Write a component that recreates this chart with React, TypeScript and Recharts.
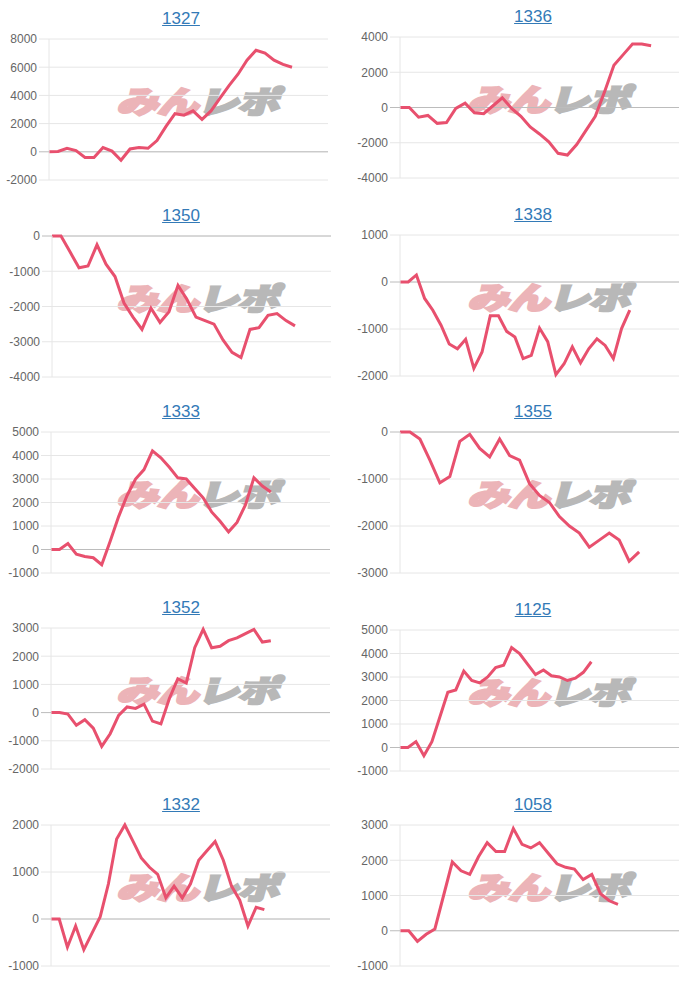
import { LineChart, Line, XAxis, YAxis, CartesianGrid, ReferenceLine } from "recharts";

const LINE = "#e8506e";
const GRID = "#e6e6e6";
const ZERO = "#bcbcbc";

// slump values per machine
const v1327 = [0, 20, 250, 80, -400, -400, 300, 50, -600, 200, 300, 250, 800, 1800, 2700, 2600, 2900, 2300, 2900, 3800, 4700, 5500, 6500, 7200, 7000, 6500, 6200, 6000];
const v1336 = [0, 0, -550, -450, -900, -850, -50, 250, -300, -350, 100, 550, -50, -500, -1100, -1500, -1950, -2600, -2700, -2100, -1300, -500, 900, 2400, 3000, 3600, 3600, 3500];
const v1350 = [0, 0, -450, -900, -850, -250, -800, -1150, -1900, -2300, -2650, -2050, -2450, -2150, -1400, -1800, -2300, -2400, -2500, -2950, -3300, -3450, -2650, -2600, -2250, -2200, -2400, -2550];
const v1338 = [0, 0, 150, -350, -600, -920, -1320, -1420, -1220, -1840, -1490, -720, -720, -1050, -1170, -1630, -1560, -980, -1270, -1970, -1740, -1380, -1720, -1420, -1210, -1350, -1630, -990, -600];
const v1333 = [0, 0, 250, -200, -300, -350, -650, 350, 1400, 2300, 3000, 3400, 4200, 3900, 3500, 3050, 3000, 2600, 2200, 1600, 1200, 750, 1150, 1900, 3050, 2700, 2450];
const v1355 = [0, 0, -150, -600, -1080, -950, -200, -50, -350, -530, -150, -500, -600, -1100, -1350, -1500, -1800, -2000, -2150, -2450, -2300, -2150, -2300, -2750, -2550];
const v1352 = [0, 0, -50, -450, -250, -550, -1200, -750, -100, 200, 150, 300, -300, -400, 500, 1200, 1050, 2300, 2950, 2300, 2350, 2550, 2650, 2800, 2950, 2500, 2550];
const v1125 = [0, 0, 250, -350, 250, 1300, 2350, 2450, 3250, 2850, 2750, 3000, 3400, 3500, 4250, 4000, 3550, 3100, 3300, 3050, 3000, 2850, 2950, 3200, 3650];
const v1332 = [0, 0, -600, -150, -650, -300, 50, 750, 1700, 2000, 1650, 1300, 1100, 950, 450, 700, 450, 750, 1250, 1450, 1650, 1250, 700, 400, -150, 250, 200];
const v1058 = [0, 0, -300, -100, 50, 1000, 1950, 1700, 1600, 2100, 2500, 2250, 2250, 2900, 2450, 2350, 2500, 2200, 1900, 1800, 1750, 1450, 1600, 1050, 850, 750];

// y-axis ticks
const t1327 = [-2000, 0, 2000, 4000, 6000, 8000];
const t1336 = [-4000, -2000, 0, 2000, 4000];
const t1350 = [-4000, -3000, -2000, -1000, 0];
const t1338 = [-2000, -1000, 0, 1000];
const t1333 = [-1000, 0, 1000, 2000, 3000, 4000, 5000];
const t1355 = [-3000, -2000, -1000, 0];
const t1352 = [-2000, -1000, 0, 1000, 2000, 3000];
const t1125 = [-1000, 0, 1000, 2000, 3000, 4000, 5000];
const t1332 = [-1000, 0, 1000, 2000];
const t1058 = [-1000, 0, 1000, 2000, 3000];

// number of slots on the (hidden) x axis
const s1327 = 31;
const s1336 = 30;
const s1350 = 31;
const s1338 = 34;
const s1333 = 33;
const s1355 = 28;
const s1352 = 33;
const s1125 = 35;
const s1332 = 34;
const s1058 = 32;

const PANELS = [
  { title: "1327", values: v1327, ticks: t1327, span: s1327, col: 0, left: 49, top: 39 },
  { title: "1336", values: v1336, ticks: t1336, span: s1336, col: 1, left: 400, top: 37 },
  { title: "1350", values: v1350, ticks: t1350, span: s1350, col: 0, left: 52, top: 236 },
  { title: "1338", values: v1338, ticks: t1338, span: s1338, col: 1, left: 400, top: 235 },
  { title: "1333", values: v1333, ticks: t1333, span: s1333, col: 0, left: 51, top: 432 },
  { title: "1355", values: v1355, ticks: t1355, span: s1355, col: 1, left: 400, top: 432 },
  { title: "1352", values: v1352, ticks: t1352, span: s1352, col: 0, left: 51, top: 628 },
  { title: "1125", values: v1125, ticks: t1125, span: s1125, col: 1, left: 400, top: 630 },
  { title: "1332", values: v1332, ticks: t1332, span: s1332, col: 0, left: 51, top: 825 },
  { title: "1058", values: v1058, ticks: t1058, span: s1058, col: 1, left: 400, top: 825 }
];

const PLOT_W = 279;
const PLOT_H = 141;
const AXIS_W = 60;
const PAD = 10;

function YTick(props: any) {
  const { x, y, payload } = props;
  const zero = payload.value === 0;
  return (
    <g>
      <line x1={x + 2} x2={x + 12} y1={y} y2={y} stroke={zero ? ZERO : GRID} strokeWidth={1} />
      <text
        x={x}
        y={y}
        dy="0.36em"
        textAnchor="end"
        fill="#666"
        fontSize={12}
        fontFamily="'Liberation Sans', Arial, sans-serif"
      >
        {payload.value}
      </text>
    </g>
  );
}

// site logo stamped behind each graph
function Watermark({ cx, cy }: { cx: number; cy: number }) {
  return (
    <div
      style={{
        position: "absolute",
        left: cx - 100,
        top: cy - 20,
        width: 200,
        height: 40,
        display: "flex",
        alignItems: "center",
        justifyContent: "center"
      }}
    >
      <div
        style={{
          fontFamily: "'Noto Sans CJK JP', sans-serif",
          fontWeight: 900,
          fontSize: 32,
          lineHeight: 1,
          whiteSpace: "nowrap",
          letterSpacing: -1,
          transform: "skewX(-16deg) scale(1.3, 0.95)"
        }}
      >
        <span style={{ color: "#ecb4b8", WebkitTextStroke: "2.5px #ecb4b8" }}>みん</span>
        <span style={{ color: "#b8b8b8", WebkitTextStroke: "2.5px #b8b8b8" }}>レポ</span>
      </div>
    </div>
  );
}

function Panel({ p }: { p: (typeof PANELS)[number] }) {
  const data = p.values.map((v, i) => ({ i, v }));
  const titleX = p.col === 0 ? 181 : 533;
  const markX = p.col === 0 ? 201 : 552;
  return (
    <>
      <Watermark cx={markX} cy={p.top + 61} />
      <div
        style={{
          position: "absolute",
          left: titleX - 60,
          top: p.top - 30,
          width: 120,
          height: 20,
          lineHeight: "20px",
          textAlign: "center",
          fontFamily: "'Liberation Sans', Arial, sans-serif",
          fontSize: 17
        }}
      >
        <a href="#" style={{ color: "#337ab7", textDecoration: "underline" }}>
          {p.title}
        </a>
      </div>
      <div style={{ position: "absolute", left: p.left - AXIS_W, top: p.top - PAD }}>
        <LineChart
          width={AXIS_W + PLOT_W + PAD}
          height={PLOT_H + PAD * 2}
          data={data}
          margin={{ top: PAD, right: PAD, bottom: PAD, left: 0 }}
        >
          <CartesianGrid vertical={false} stroke={GRID} />
          <XAxis type="number" dataKey="i" domain={[0, p.span]} hide />
          <YAxis
            width={AXIS_W}
            domain={[p.ticks[0], p.ticks[p.ticks.length - 1]]}
            ticks={p.ticks}
            interval={0}
            tickLine={false}
            tickSize={10}
            tickMargin={2}
            axisLine={{ stroke: GRID }}
            tick={<YTick />}
          />
          <ReferenceLine y={0} stroke={ZERO} />
          <Line
            type="linear"
            dataKey="v"
            stroke={LINE}
            strokeWidth={3}
            dot={false}
            isAnimationActive={false}
          />
        </LineChart>
      </div>
    </>
  );
}

export default function App() {
  return (
    <div
      style={{
        position: "absolute",
        left: 0,
        top: 0,
        width: 700,
        height: 985,
        background: "#fff",
        overflow: "hidden"
      }}
    >
      {PANELS.map((p) => (
        <Panel key={p.title} p={p} />
      ))}
    </div>
  );
}
